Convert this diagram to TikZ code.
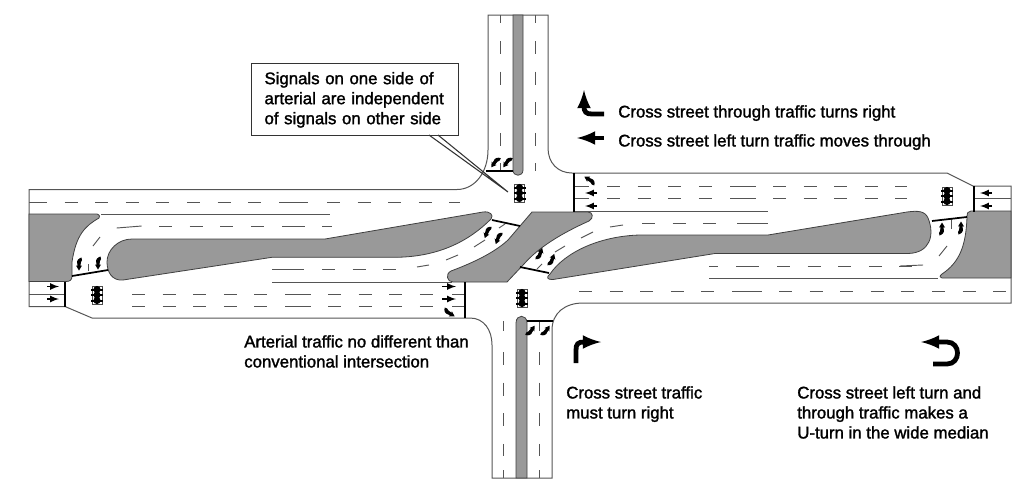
\documentclass[tikz,border=0pt]{standalone}
\usepackage{fontspec}
\setmainfont[BoldFont={Liberation Sans},BoldFeatures={FakeBold=1.6}]{Liberation Sans}
\usetikzlibrary{arrows,positioning}
\usetikzlibrary{calc}
\definecolor{mediangrey}{HTML}{999999}
\definecolor{roadline}{HTML}{555555}
\tikzset{
  roadedge/.style={draw=roadline,line width=0.75pt},
  median/.style={draw=black!75,line width=0.6pt,fill=mediangrey},
  laneline/.style={draw=roadline,line width=0.7pt},
  dashline/.style={laneline,dash pattern=on 9.75pt off 13.2pt},
  stopbar/.style={draw=black,line width=1.3pt},
  boldarrow/.style={line width=3.6pt,-latex},
  lanearrow/.style={line width=1.3pt,-latex},
  caption/.style={anchor=north west,inner sep=0pt,align=left,font=\fontsize{12.6}{15}\selectfont\bfseries},
  signal/.pic={
    \draw[black!70,line width=0.4pt] (-5,-9) rectangle (5,9);
    \foreach \yy in {-5.5,0,5.5} {
      \fill[black] (0,\yy) circle (3.6);
      \fill[black] (-6,\yy-1) rectangle (6,\yy+1);
    }
  },
  turnmark/.pic={
    \fill[black] (0,6.5) -- (-3,1.5) -- (-1.5,2) .. controls (-1.5,-1) and (-4,-4) .. (2.5,-6.5) -- (3,-4) .. controls (1,-3) and (2.5,-1) .. (1.5,2.2) -- (3,1.5) -- cycle;
  }
}
\begin{document}
\begin{tikzpicture}[x=0.75pt,y=-0.75pt]
\useasboundingbox (0,0) rectangle (1020,486);
\draw[roadedge] (29,189.5) -- (457,189.5) .. controls (475,189.5) and (488,172) .. (488,150) -- (488,15) -- (548,15) -- (548,148) .. controls (548,163) and (558,173) .. (572,173) -- (947,173) -- (973,186) -- (1011,186) -- (1011,303) -- (583,303) .. controls (565,303) and (552,313) .. (552,330) -- (552,478) -- (492,478) -- (492,345) .. controls (492,330) and (484,318) .. (470,318) -- (92,318) -- (65,306.5) -- (29,306.5) -- cycle;
\draw[median] (29,214) -- (97,214) .. controls (100,215) and (100,217) .. (99,218) .. controls (85,226) and (76,235) .. (72,262) -- (72,276) .. controls (72,280) and (70,281.5) .. (66,281.5) -- (29,281.5) -- cycle;
\draw[median] (132,239) -- (325,239) -- (483,212) .. controls (490,211) and (494,215) .. (491,219) .. controls (470,240) and (440,257) .. (395,257.3) -- (272,257.3) -- (123,280) .. controls (112,281) and (107,272) .. (107,262) .. controls (107,250) and (118,239) .. (132,239) -- cycle;
\draw[median] (532,212) -- (588,212) .. controls (593,212) and (594,218) .. (589,221) .. controls (560,234) and (538,248) .. (524,264) -- (507,282) -- (453,282) .. controls (447,282) and (445,274) .. (451,271) .. controls (475,262) and (495,252) .. (508,240) -- cycle;
\draw[median] (550,274) .. controls (565,252) and (600,236) .. (640,235) -- (768,235) -- (907,212) .. controls (918,210.5) and (925,211) .. (928,218) .. controls (935,235) and (930,253) .. (908,253.5) -- (715,253.5) -- (553,279.5) .. controls (547,280) and (546,277) .. (550,274) -- cycle;
\draw[median] (1011,211) -- (971,211) .. controls (968,211) and (967,213) .. (967,217) .. controls (966,245) and (960,262) .. (942,274) .. controls (939,276) and (940,278) .. (942,278) -- (1011,278) -- cycle;
\draw[median] (513,15) -- (513,170) .. controls (513,177) and (523,177) .. (523,170) -- (523,15) -- cycle;
\draw[median] (516,478) -- (516,323) .. controls (516,314) and (527,314) .. (527,323) -- (527,478) -- cycle;

\foreach \xa/\xb/\yy in {34/278/202,327/460/202,159/265/226.7,132/268/294,328/435/294,132/268/306.4,328/435/306.4,322/400/269,607/713/186,773/907/186,607/713/198,773/907/198,642/720/223,777/916/266,579/716/291,779/1011/291}
  \draw[dashline] (\xa,\yy) -- (\xb,\yy);
\foreach \xa/\xb/\yy in {29/47/202,279/308/202,282/305/226.7,322/332/226.7,285/311/294,452/465/294,285/311/306.4,452/465/306.4,272/304/269,730/756/186,730/756/198,574/589/186,574/589/198,737/768/223,709/718/266,736/759/266,732/762/291,29/65/294,974/1011/198,101/330/214,272/452/282,574/768/211,709/938/278}
  \draw[laneline] (\xa,\yy) -- (\xb,\yy);
\foreach \xa/\ya/\xb/\yb in {417/267/429/265,446/260/458/255,474/247/485/240,499/228/505/224,537/269/542/264,555/252/565/246,581/238/593/232,610/227/623/225,116.7/228/141.7/226,93/246/100/237,88/264/88/271,900/266/923/265,939/256/947/246,951/219/951/229}
  \draw[laneline] (\xa,\ya) -- (\xb,\yb);
\foreach \xx in {500.7,535.7} {
  \draw[laneline] (\xx,15) -- (\xx,23);
  \draw[dashline] (\xx,41) -- (\xx,146);
  \draw[laneline] (\xx,163) -- (\xx,171);
}
\foreach \xx in {503,539} {
  \draw[laneline] (\xx,321) -- (\xx,331);
  \draw[dashline] (\xx,352) -- (\xx,456);
  \draw[laneline] (\xx,470) -- (\xx,478);
}

\draw[stopbar] (65,281.5) -- (65,306.5);
\draw[stopbar] (465,282) -- (465,318);
\draw[stopbar] (574,173) -- (574,212);
\draw[stopbar] (974,186) -- (974,212);
\draw[stopbar] (486,171) -- (513,171);
\draw[stopbar] (527,321) -- (553,321);
\draw[stopbar] (72,276) -- (108,270);
\draw[stopbar] (492,220) -- (520,226);
\draw[stopbar] (520,267) -- (549,273);
\draw[stopbar] (932,221) -- (967,217);

\foreach \xa/\xb/\yy in {47/59/286.5,47/59/299,442/456/286.5,442/456/299,597/585/193,597/585/206,992/980/193,992/980/206}
  \draw[lanearrow] (\xa,\yy) -- (\xb,\yy);
\foreach \xx/\yy/\ang in {495/162/-35,507/162/-35,531/331/145,546/331/145,79/264/0,98/263/0,487/232/-20,498/238/-20,540/254/160,552/260/160,942/229/180,961/228/180,449/313/60,590/180/240}
  \pic[rotate=\ang] at (\xx,\yy) {turnmark};
\foreach \xx/\yy in {97/295,947/196,519.5/193,522/298}
  \pic at (\xx,\yy) {signal};

\draw[boldarrow] (604,114) -- (592,114) .. controls (586,114) and (584,112) .. (584,106) -- (584,90);
\draw[boldarrow] (604,138) -- (577,138);
\draw[boldarrow] (576,363) -- (576,350) .. controls (576,344) and (578,342) .. (584,342) -- (601,342);
\draw[boldarrow] (933,364) -- (947,364) .. controls (961,364) and (961,342) .. (947,342) -- (921,342);

\node[caption] (cross right) at (618,105) {Cross street through traffic turns right};
\node[caption] (cross left) at (618,134) {Cross street left turn traffic moves through};
\node[caption] (arterial note) at (244,335) {Arterial traffic no different than\\conventional intersection};
\node[caption] (must right) at (566,386) {Cross street traffic\\must turn right};
\node[caption] (uturn note) at (797,386) {Cross street left turn and\\through traffic makes a\\U-turn in the wide median};
\node[caption,draw=black!80,line width=0.8pt,fill=white,minimum width=155pt,minimum height=54pt,text width=135.5pt,inner xsep=9.75pt] (callout) at (251,63.3) {Signals on one side of\\arterial are independent\\of signals on other side};
\coordinate (leadA) at (429,135);
\coordinate (leadB) at (438,135);
\coordinate (leadtip) at (508,192);
\draw[black!80,line width=0.8pt] (leadA) -- (leadtip) -- (leadB);
\end{tikzpicture}
\end{document}
